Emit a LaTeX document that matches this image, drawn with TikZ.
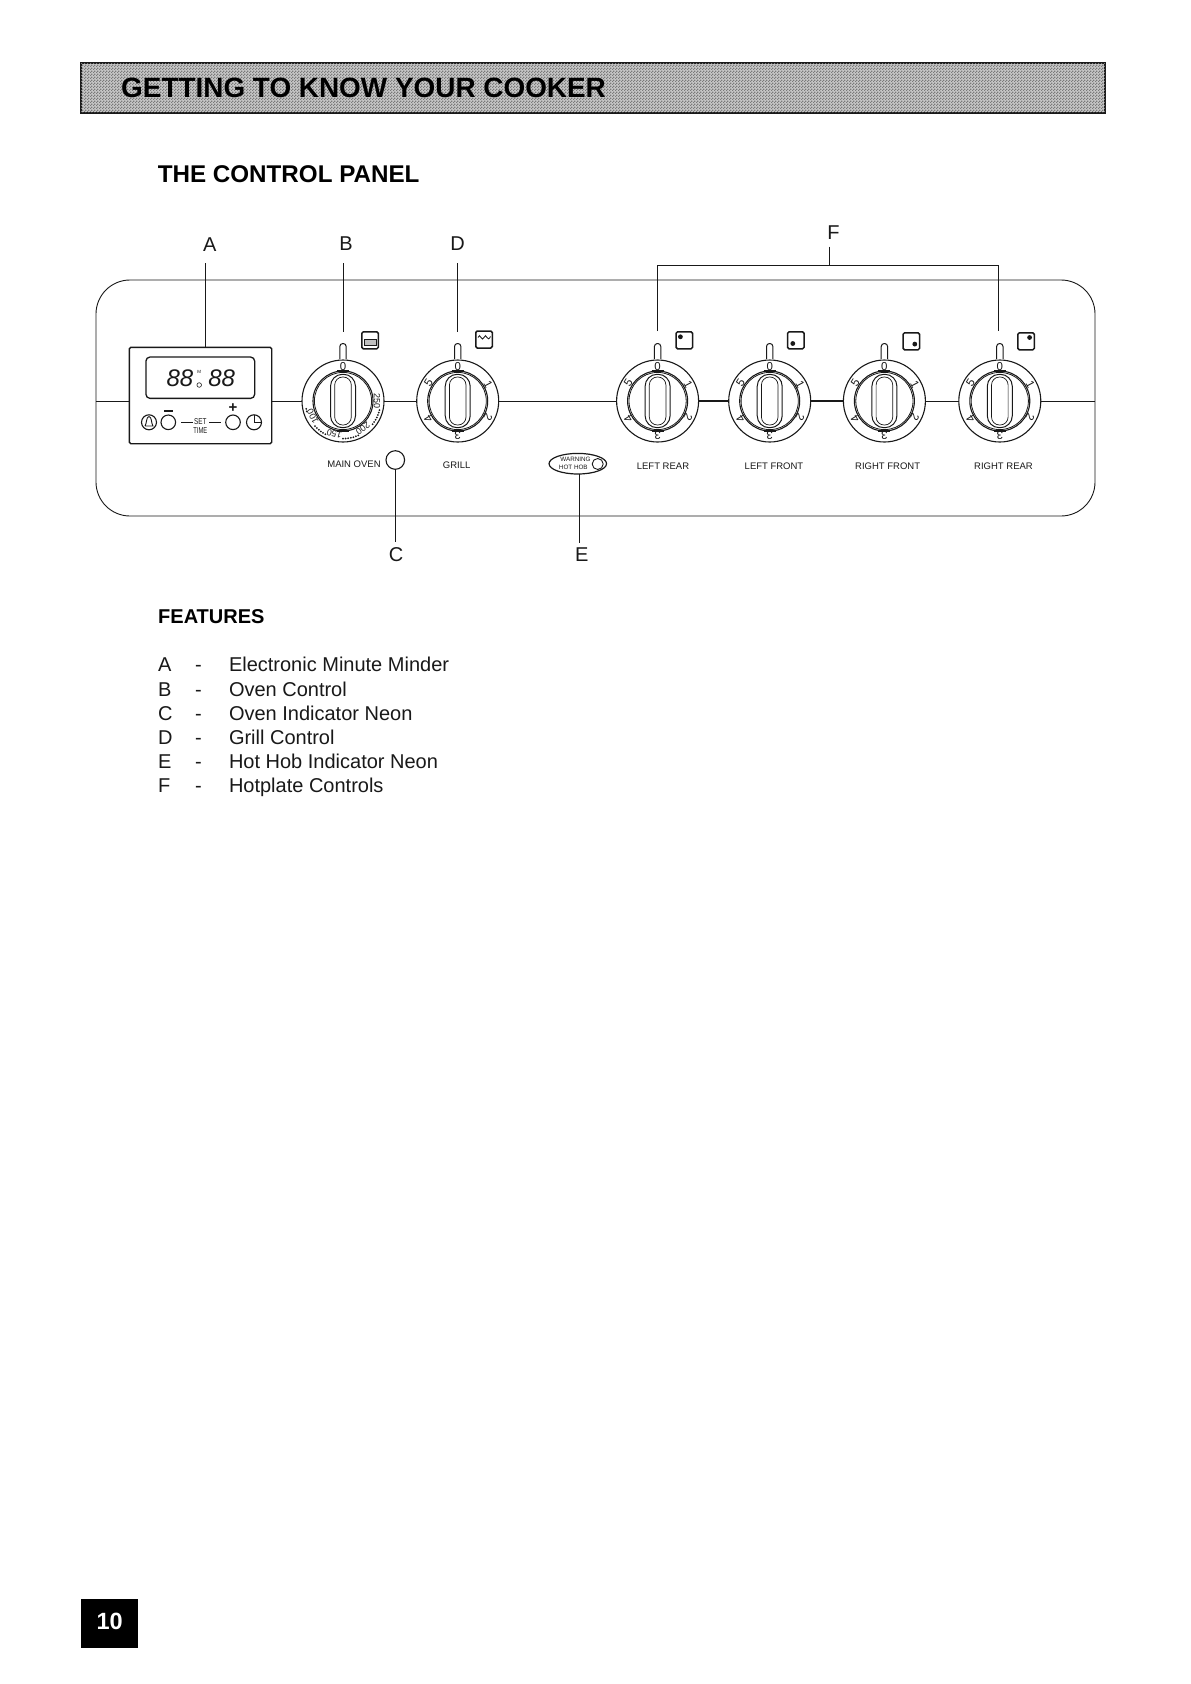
\documentclass[tikz,border=0pt]{standalone}
\usepackage{fontspec}
\usepackage{graphicx}
\usetikzlibrary{patterns,shapes.geometric}
\setmainfont{Liberation Sans}
\newcommand{\fsz}[1]{\fontsize{#1bp}{#1bp}\selectfont}
\pgfdeclarepatternformonly{dither}{\pgfqpoint{0bp}{0bp}}{\pgfqpoint{3bp}{3bp}}{\pgfqpoint{3bp}{3bp}}{%
  \pgfpathrectangle{\pgfqpoint{0bp}{0bp}}{\pgfqpoint{1.5bp}{1.5bp}}%
  \pgfpathrectangle{\pgfqpoint{1.5bp}{1.5bp}}{\pgfqpoint{1.5bp}{1.5bp}}%
  \pgfusepath{fill}}
\colorlet{ink}{black!90}
\tikzset{
  lab/.style={inner sep=0pt,outer sep=0pt,text=ink},
  wire/.style={draw=ink,line width=0.9bp},
  heavy/.style={draw=ink,line width=1.4bp},
  iconbox/.style={draw=ink,line width=1.5bp,rounded corners=1.5bp,minimum width=16.5bp,minimum height=17bp,inner sep=0pt,outer sep=0pt,anchor=north west},
  ring/.style={circle,draw=ink,line width=1.1bp,minimum size=82bp,inner sep=0pt,outer sep=0pt,fill=white},
  neonc/.style={circle,draw=ink,line width=1.1bp,inner sep=0pt,outer sep=0pt},
  listtxt/.style={lab,anchor=base west,font=\fsz{20}},
  bigl/.style={lab,font=\fsz{20}},
  small/.style={lab,font=\fsz{9.5}},
}
% common knob body: name, x, y
\newcommand{\knobbody}[3]{%
  \node[ring] (#1) at (#2,#3) {};
  \draw[ink,line width=1.1bp] (#2,#3) circle [radius=30];
  \draw[ink,line width=0.8bp] (#2,#3) circle [radius=28.6];
  \draw[ink,line width=2bp] (#2-6,#3-29.6) -- (#2+6,#3-29.6);
  \draw[ink,line width=2bp] (#2-6,#3+29.6) -- (#2+6,#3+29.6);
  \draw[ink,line width=1bp,rounded corners=12bp] (#2-12.5,#3-26.7) rectangle (#2+12.5,#3+26.7);
  \draw[ink,line width=0.7bp,rounded corners=8bp] (#2-8.3,#3-24) rectangle (#2+8.3,#3+24);
  \draw[ink,line width=1bp,fill=white,rounded corners=3bp] (#2-3.2,#3+0-41-1) -- (#2-3.2,#3-57.5) -- (#2+3.2,#3-57.5) -- (#2+3.2,#3-41-1);
  \node[lab,font=\fsz{11.5}] (#1n0) at (#2,#3-34.5) {0};
}
\newcommand{\gradnums}[3]{%
  \foreach \t/\d in {62/1,118/2,180/3,238/4,302/5}{
    \pgfmathsetmacro{\px}{#2+34.5*sin(\t)}
    \pgfmathsetmacro{\py}{#3-34.5*cos(\t)}
    \pgfmathsetmacro{\rr}{-\t}
    \node[lab,font=\fsz{11.5},rotate=\rr] (#1n\d) at (\px,\py) {\d};
  }
}
\newcommand{\hotplateicon}[5]{%
  \node[iconbox] (#1) at (#2,#3) {};
  \fill[ink] (#2+#4,#3+#5) circle [radius=2.4];
}
\begin{document}
\begin{tikzpicture}[x=1bp,y=-1bp]
\useasboundingbox (0,0) rectangle (1190,1684);
\fill[white] (0,0) rectangle (1190,1684);
% title bar
\node[draw=ink,line width=2bp,fill=black!22,minimum width=1024bp,minimum height=49.5bp,inner sep=0pt,outer sep=0pt,
  postaction={pattern=dither,pattern color=black!52}] (bar) at (593,88) {};
\node[anchor=base west,inner sep=0pt,text=black,font=\fsz{27.9}\bfseries] (title) at (121,97.3) {GETTING TO KNOW YOUR COOKER};
\node[anchor=base west,inner sep=0pt,text=black,font=\fsz{24.2}\bfseries] (sub) at (157.6,182.8) {THE CONTROL PANEL};
% panel
\node[wire,rounded corners=34bp,minimum width=999bp,minimum height=236bp,inner sep=0pt,outer sep=0pt] (panel) at (595.5,398) {};
% timer
\node[heavy,rounded corners=1.5bp,fill=white,minimum width=142.4bp,minimum height=96.4bp,inner sep=0pt,outer sep=0pt] (tb) at (200.5,395.5) {};
\node[draw=ink,line width=1.3bp,rounded corners=4bp,minimum width=108.7bp,minimum height=41.3bp,inner sep=0pt,outer sep=0pt] (disp) at (200.3,377.7) {};
\node[lab,font=\fsz{24}\itshape] (d1) at (180,378) {88};
\node[lab,font=\fsz{24}\itshape] (d2) at (221.7,378) {88};
\node[lab,font=\fsz{4.5}] (ampm) at (199.3,372) {M};
\node[neonc,line width=0.6bp,minimum size=4.6bp] (colon) at (199.2,385) {};
\node[neonc,minimum size=15bp] (bell) at (149,422.3) {};
\draw[ink,line width=0.9bp] (145,426) -- (153,426) .. controls (151,423) and (152,417) .. (149,416.5) .. controls (146,417) and (147,423) .. (145,426);
\node[neonc,minimum size=14.6bp] (minusb) at (168.3,422.3) {};
\draw[ink,line width=1.6bp] (164.3,410.7) -- (172.5,410.7);
\node[neonc,minimum size=14.6bp] (plusb) at (233,422.3) {};
\node[lab,font=\fsz{15}\bfseries] (plussign) at (233,408.5) {+};
\node[neonc,minimum size=15bp] (clock) at (254,422.3) {};
\draw[ink,line width=0.9bp] (clock.north) -- (clock.center) -- (clock.east);
\node[lab,font=\fsz{8.5}] (set) at (200.3,422) {\scalebox{0.75}[1]{SET}};
\node[lab,font=\fsz{8.5}] (tim) at (200.3,430.2) {\scalebox{0.68}[1]{TIME}};
\coordinate (s1) at (181,422.3);
\coordinate (s2) at (192.7,422.3);
\coordinate (s3) at (209,422.3);
\coordinate (s4) at (221,422.3);
\draw[ink,line width=0.9bp] (s1) -- (s2);
\draw[ink,line width=0.9bp] (s3) -- (s4);
% knobs
\knobbody{kb}{343}{401}
\knobbody{kd}{457.7}{401}
\knobbody{kf1}{657.6}{401}
\knobbody{kf2}{769.7}{401}
\knobbody{kf3}{884.4}{401}
\knobbody{kf4}{999.8}{401}
\gradnums{kd}{457.7}{401}
\gradnums{kf1}{657.6}{401}
\gradnums{kf2}{769.7}{401}
\gradnums{kf3}{884.4}{401}
\gradnums{kf4}{999.8}{401}
\foreach \t/\d in {90/250,144/200,195/150,243/100}{
  \pgfmathsetmacro{\px}{343+34*sin(\t)}
  \pgfmathsetmacro{\py}{401-34*cos(\t)}
  \pgfmathsetmacro{\rr}{-\t}
  \node[lab,font=\fsz{9},rotate=\rr] (kbn\d) at (\px,\py) {\d};
}
\foreach \t in {104,108,...,128,156,160,...,180,208,212,...,228,254,258}{
  \fill[ink] ({343+37.6*sin(\t)},{401-37.6*cos(\t)}) circle [radius=1];
}
% horizontal connectors
\draw[wire] (panel.west |- kb.west) -- (tb.west |- kb.west);
\draw[wire] (tb.east |- kb.west) -- (kb.west);
\draw[wire] (kb.east) -- (kd.west);
\draw[wire] (kd.east) -- (kf1.west);
\draw[wire,line width=1.2bp] (kf1.east) -- (kf2.west);
\draw[wire,line width=1.2bp] (kf2.east) -- (kf3.west);
\draw[wire] (kf3.east) -- (kf4.west);
\draw[wire] (kf4.east) -- (panel.east |- kf4.east);
% icons
\node[iconbox] (ib) at (361.8,331.8) {};
\draw[ink,line width=1bp,fill=black!25] (364.2,339.7) rectangle (376,345.2);
\node[iconbox] (id) at (475.8,331) {};
\draw[ink,line width=0.8bp] (478,337.5) .. controls (479,335) and (480,335) .. (481,337.5) .. controls (482,339.5) and (483,339.5) .. (484,337.5) .. controls (485,335) and (486,335) .. (487,337.5) .. controls (488,339.5) and (489,339.5) .. (490.5,336.5);
\hotplateicon{if1}{676}{331.8}{4.4}{5}
\hotplateicon{if2}{787.6}{331.8}{5.2}{11.7}
\hotplateicon{if3}{903}{332.8}{11.8}{11.3}
\hotplateicon{if4}{1017.8}{332.8}{11.8}{4.7}
% neon and warning
\node[neonc,minimum size=18.6bp,fill=white] (neon) at (395.3,460) {};
\node[ellipse,draw=ink,line width=1.2bp,minimum width=57.5bp,minimum height=20.6bp,inner sep=0pt,outer sep=0pt] (warn) at (577.8,463.7) {};
\node[neonc,line width=0.9bp,minimum size=11bp] (warnc) at (597.7,464) {};
\node[lab,font=\fsz{6.3}] (w1) at (575.5,459.8) {WARNING};
\node[lab,font=\fsz{6.3}] (w2) at (573.3,467.2) {HOT HOB};
% small labels
\node[small] (lmain) at (354,464.3) {MAIN OVEN};
\node[small] (lgrill) at (456.7,465) {GRILL};
\node[small] (lf1) at (663,466.7) {LEFT REAR};
\node[small] (lf2) at (774,466.7) {LEFT FRONT};
\node[small] (lf3) at (887.6,466.7) {RIGHT FRONT};
\node[small] (lf4) at (1003.5,466.7) {RIGHT REAR};
% letter labels
\node[bigl] (la) at (209.7,245) {A};
\node[bigl] (lb) at (346,243.3) {B};
\node[bigl] (ld) at (457.7,243.3) {D};
\node[bigl] (lfx) at (833.4,233) {F};
\node[bigl] (lc) at (396,554.5) {C};
\node[bigl] (le) at (581.8,555) {E};
% leaders
\coordinate (ea) at (205,263);
\coordinate (eb1) at (343,263);
\coordinate (eb2) at (343,331.5);
\coordinate (ed1) at (457.7,263);
\coordinate (ed2) at (457.7,331.5);
\coordinate (ec) at (395.3,542);
\coordinate (ee) at (579.2,543.3);
\coordinate (ff) at (829,246.7);
\coordinate (fl) at (657.6,331);
\coordinate (fr) at (998.7,331);
\coordinate (fla) at (657.6,265.3);
\coordinate (fra) at (998.7,265.3);
\draw[wire] (ea) -- (tb.north -| ea);
\draw[wire] (eb1) -- (eb2);
\draw[wire] (ed1) -- (ed2);
\draw[wire] (neon.south) -- (ec);
\draw[wire] (warn.south -| ee) -- (ee);
\draw[wire] (fl) -- (fla) -- (fra) -- (fr);
\draw[wire] (ff) -- (ff |- fla);
% features
\node[anchor=base west,inner sep=0pt,text=black,font=\fsz{20}\bfseries] (feat) at (158,623.2) {FEATURES};
\foreach \n/\yy/\a/\b in {1/671.5/A/Electronic Minute Minder,2/696.2/B/Oven Control,3/720.5/C/Oven Indicator Neon,4/744.5/D/Grill Control,5/768.2/E/Hot Hob Indicator Neon,6/792.2/F/Hotplate Controls}{
  \node[listtxt] (ll\n) at (158,\yy) {\a};
  \node[listtxt] (ld\n) at (195,\yy) {-};
  \node[listtxt] (lt\n) at (229,\yy) {\b};
}
% page number
\node[fill=black,minimum width=57.6bp,minimum height=49bp,inner sep=0pt,outer sep=0pt] (pg) at (109.5,1623.5) {};
\node[inner sep=0pt,text=white,font=\fsz{23.5}\bfseries] (pgn) at (109.7,1621) {10};
\end{tikzpicture}
\end{document}
